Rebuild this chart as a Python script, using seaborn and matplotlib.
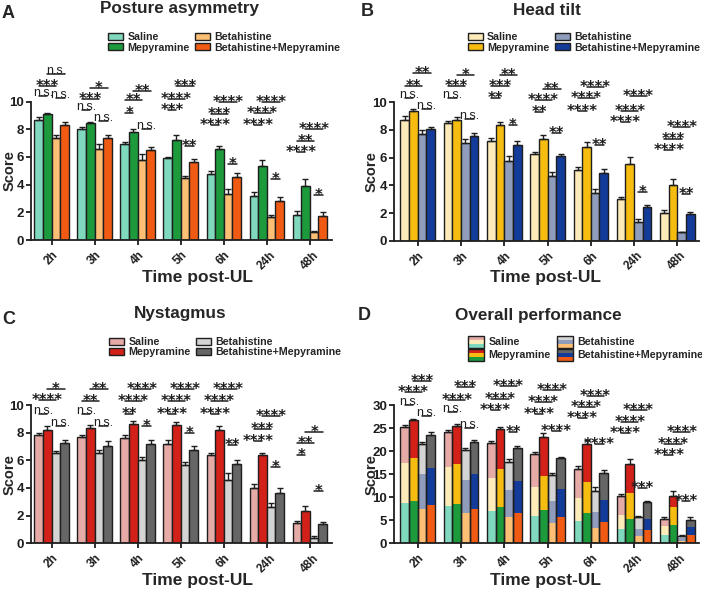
import numpy as np
import pandas as pd
import matplotlib
matplotlib.use("Agg")
import matplotlib.pyplot as plt
import matplotlib.transforms as mtransforms
from matplotlib.patches import Rectangle, Patch
from matplotlib.legend_handler import HandlerBase
import seaborn as sns

# ---------------- data ----------------
times = ["2h", "3h", "4h", "5h", "6h", "24h", "48h"]
groups = ["Saline", "Mepyramine", "Betahistine", "Betahistine+Mepyramine"]

# Posture asymmetry
posture_saline = [8.7, 8.0, 6.9, 5.9, 4.75, 3.2, 1.8]
posture_mepyramine = [9.1, 8.45, 7.8, 7.25, 6.55, 5.35, 3.9]
posture_betahistine = [7.35, 6.6, 5.8, 4.45, 3.35, 1.65, 0.6]
posture_combo = [8.3, 7.35, 6.5, 5.6, 4.55, 2.85, 1.7]
posture_err_saline = [0.2, 0.15, 0.15, 0.1, 0.25, 0.3, 0.3]
posture_err_mepyramine = [0.1, 0.1, 0.25, 0.3, 0.25, 0.45, 0.5]
posture_err_betahistine = [0.2, 0.3, 0.4, 0.2, 0.35, 0.15, 0.05]
posture_err_combo = [0.25, 0.2, 0.2, 0.25, 0.3, 0.25, 0.3]

# Head tilt
head_saline = [8.75, 8.5, 7.2, 6.25, 5.1, 3.0, 2.0]
head_mepyramine = [9.35, 8.7, 8.35, 7.35, 6.8, 5.55, 4.0]
head_betahistine = [7.7, 7.05, 5.75, 4.7, 3.45, 1.35, 0.6]
head_combo = [8.05, 7.6, 6.95, 6.1, 4.9, 2.4, 1.9]
head_err_saline = [0.25, 0.15, 0.25, 0.15, 0.25, 0.15, 0.2]
head_err_mepyramine = [0.15, 0.25, 0.25, 0.3, 0.3, 0.5, 0.45]
head_err_betahistine = [0.3, 0.3, 0.4, 0.25, 0.3, 0.2, 0.05]
head_err_combo = [0.15, 0.2, 0.25, 0.2, 0.25, 0.2, 0.2]

# Nystagmus
nyst_saline = [7.85, 7.7, 7.6, 7.2, 6.35, 4.0, 1.45]
nyst_mepyramine = [8.2, 8.35, 8.65, 8.55, 8.2, 6.35, 2.35]
nyst_betahistine = [6.5, 6.55, 6.05, 5.65, 4.6, 2.65, 0.4]
nyst_combo = [7.25, 7.05, 7.15, 6.75, 5.75, 3.65, 1.4]
nyst_err_saline = [0.15, 0.15, 0.2, 0.25, 0.15, 0.3, 0.15]
nyst_err_mepyramine = [0.25, 0.2, 0.2, 0.2, 0.3, 0.15, 0.35]
nyst_err_betahistine = [0.15, 0.2, 0.2, 0.25, 0.5, 0.25, 0.1]
nyst_err_combo = [0.2, 0.35, 0.35, 0.25, 0.25, 0.35, 0.15]

# Overall performance (error of the total score)
overall_err_saline = [0.4, 0.4, 0.5, 0.5, 0.5, 0.6, 0.5]
overall_err_mepyramine = [0.3, 0.4, 0.5, 0.8, 0.8, 1.0, 1.2]
overall_err_betahistine = [0.5, 0.5, 0.6, 0.4, 0.8, 0.3, 0.15]
overall_err_combo = [0.5, 0.4, 0.4, 0.3, 0.6, 0.3, 0.6]

# significance annotations: (time index, bar i, bar j, label, height)
ann_A = [
    (0, 0, 1, "n.s.", 10.6), (0, 0, 2, "***", 11.3), (0, 1, 3, "n.s.", 12.2), (0, 2, 3, "n.s.", 10.5),
    (1, 0, 1, "n.s.", 9.6), (1, 0, 2, "***", 10.4), (1, 1, 3, "*", 11.2), (1, 2, 3, "n.s.", 8.8),
    (2, 0, 1, "*", 9.4), (2, 0, 2, "**", 10.3), (2, 1, 3, "**", 11.0), (2, 2, 3, "n.s.", 8.2),
    (3, 0, 1, "***", 9.6), (3, 0, 2, "****", 10.4), (3, 1, 3, "***", 11.3), (3, 2, 3, "**", 7.0),
    (4, 0, 1, "****", 8.5), (4, 0, 2, "***", 9.3), (4, 1, 3, "****", 10.2), (4, 2, 3, "*", 5.7),
    (5, 0, 1, "****", 8.55), (5, 0, 2, "****", 9.4), (5, 1, 3, "****", 10.2), (5, 2, 3, "*", 4.6),
    (6, 0, 1, "****", 6.6), (6, 0, 2, "**", 7.4), (6, 1, 3, "****", 8.2), (6, 2, 3, "*", 3.5),
]
ann_B = [
    (0, 0, 1, "n.s.", 10.5), (0, 0, 2, "**", 11.4), (0, 1, 3, "**", 12.3), (0, 2, 3, "n.s.", 9.7),
    (1, 0, 1, "n.s.", 10.5), (1, 0, 2, "***", 11.4), (1, 1, 3, "*", 12.2), (1, 2, 3, "n.s.", 9.0),
    (2, 0, 1, "**", 10.55), (2, 0, 2, "***", 11.4), (2, 1, 3, "**", 12.2), (2, 2, 3, "*", 8.6),
    (3, 0, 1, "**", 9.5), (3, 0, 2, "****", 10.4), (3, 1, 3, "**", 11.2), (3, 2, 3, "**", 8.0),
    (4, 0, 1, "****", 9.6), (4, 0, 2, "****", 10.5), (4, 1, 3, "****", 11.3), (4, 2, 3, "**", 7.1),
    (5, 0, 1, "****", 8.8), (5, 0, 2, "****", 9.6), (5, 1, 3, "****", 10.65), (5, 2, 3, "*", 3.7),
    (6, 0, 1, "****", 6.75), (6, 0, 2, "***", 7.6), (6, 1, 3, "****", 8.4), (6, 2, 3, "**", 3.6),
]
ann_C = [
    (0, 0, 1, "n.s.", 9.6), (0, 0, 2, "****", 10.6), (0, 1, 3, "*", 11.4), (0, 2, 3, "n.s.", 8.7),
    (1, 0, 1, "n.s.", 9.6), (1, 0, 2, "**", 10.5), (1, 1, 3, "**", 11.4), (1, 2, 3, "n.s.", 8.7),
    (2, 0, 1, "**", 9.6), (2, 0, 2, "****", 10.5), (2, 1, 3, "****", 11.4), (2, 2, 3, "*", 8.7),
    (3, 0, 1, "****", 9.6), (3, 0, 2, "****", 10.5), (3, 1, 3, "****", 11.4), (3, 2, 3, "*", 8.2),
    (4, 0, 1, "****", 9.6), (4, 0, 2, "****", 10.5), (4, 1, 3, "****", 11.4), (4, 2, 3, "**", 7.35),
    (5, 0, 1, "****", 7.6), (5, 0, 2, "***", 8.5), (5, 1, 3, "****", 9.4), (5, 2, 3, "*", 5.7),
    (6, 0, 1, "*", 6.6), (6, 0, 2, "**", 7.5), (6, 1, 3, "*", 8.3), (6, 2, 3, "*", 4.0),
]
ann_D = [
    (0, 0, 1, "n.s.", 30.7), (0, 0, 2, "****", 33.5), (0, 1, 3, "***", 35.9), (0, 2, 3, "n.s.", 28.2),
    (1, 0, 1, "n.s.", 29.1), (1, 0, 2, "****", 31.8), (1, 1, 3, "***", 34.5), (1, 2, 3, "n.s.", 25.7),
    (2, 0, 1, "****", 29.6), (2, 0, 2, "****", 32.0), (2, 1, 3, "****", 34.7), (2, 2, 3, "**", 24.9),
    (3, 0, 1, "****", 28.7), (3, 0, 2, "****", 31.3), (3, 1, 3, "****", 33.8), (3, 2, 3, "****", 25.1),
    (4, 0, 1, "****", 27.8), (4, 0, 2, "****", 30.2), (4, 1, 3, "****", 32.7), (4, 2, 3, "****", 22.2),
    (5, 0, 1, "****", 24.6), (5, 0, 2, "****", 27.0), (5, 1, 3, "****", 29.5), (5, 2, 3, "***", 12.7),
    (6, 0, 1, "****", 19.9), (6, 0, 2, "****", 22.2), (6, 1, 3, "****", 24.9), (6, 2, 3, "***", 9.8),
]

# ---------------- style ----------------
posture_colors = ["#80D8BE", "#1C9A3C", "#FDBF74", "#F15A13"]
head_colors = ["#FDEBBA", "#F6BD10", "#8F9CBB", "#133B9A"]
nyst_colors = ["#E6AAA7", "#D3211A", "#D4D4D4", "#666666"]
EDGE = "#1e1e1e"

sns.set_style("ticks")
plt.rcParams["font.family"] = ["Liberation Sans", "DejaVu Sans"]
plt.rcParams["font.weight"] = "bold"
plt.rcParams["axes.labelweight"] = "bold"
plt.rcParams["axes.linewidth"] = 1.3

W, H = 702, 589
fig = plt.figure(figsize=(W / 100, H / 100), dpi=100)


def px_axes(left, right, top, bottom):
    return fig.add_axes([left / W, 1 - bottom / H, (right - left) / W, (bottom - top) / H])


axA = px_axes(31, 331.7, 101.5, 240)
axB = px_axes(394, 699, 102.3, 240.7)
axC = px_axes(31, 331.7, 405, 543.3)
axD = px_axes(394, 699, 405, 543.3)


def long_df(series):
    rows = []
    for g, vals in zip(groups, series):
        for t, v in zip(times, vals):
            rows.append({"time": t, "group": g, "value": v})
    return pd.DataFrame(rows)


def bar_layer(ax, series, colors, edge=True):
    n0 = len(ax.containers)
    sns.barplot(data=long_df(series), x="time", y="value", hue="group",
                order=times, hue_order=groups, palette=colors, saturation=1,
                errorbar=None, width=0.8, legend=False, ax=ax,
                edgecolor=EDGE if edge else "none", linewidth=1.0 if edge else 0)
    return ax.containers[n0:n0 + 4]


def add_errors(ax, containers, errs):
    for cont, err in zip(containers, errs):
        xs = [b.get_x() + b.get_width() / 2 for b in cont]
        ys = [b.get_y() + b.get_height() for b in cont]
        ax.errorbar(xs, ys, yerr=[np.zeros(len(err)), err], fmt="none",
                    ecolor=EDGE, elinewidth=1.0, capsize=2.5, capthick=1.0, zorder=5)


def add_annotations(ax, containers, anns):
    centers = [[b.get_x() + b.get_width() / 2 for b in cont] for cont in containers]
    line_tr = ax.transData + mtransforms.ScaledTranslation(0, -3 / 100, fig.dpi_scale_trans)
    for t, i, j, lab, y in anns:
        x1, x2 = centers[i][t], centers[j][t]
        ax.plot([x1, x2], [y, y], color=EDGE, lw=1.1, clip_on=False, transform=line_tr)
        if lab == "n.s.":
            tr = ax.transData + mtransforms.ScaledTranslation(0, -3 / 100, fig.dpi_scale_trans)
            ax.text((x1 + x2) / 2, y, lab, ha="center", va="baseline", fontsize=9,
                    fontweight="normal", color=EDGE, transform=tr, clip_on=False)
        else:
            tr = ax.transData + mtransforms.ScaledTranslation(0, -8 / 100, fig.dpi_scale_trans)
            ax.text((x1 + x2) / 2, y, lab, ha="center", va="baseline", fontsize=10.5,
                    family="DejaVu Sans", fontweight="bold", color=EDGE, transform=tr,
                    clip_on=False)


def style_axes(ax, ymax, step, xlim, xlabel_x):
    ax.set_ylim(0, ymax)
    ax.set_xlim(*xlim)
    ax.set_yticks(np.arange(0, ymax + 0.01, step))
    ax.set_yticklabels([f"{int(v)}" for v in np.arange(0, ymax + 0.01, step)])
    ax.tick_params(axis="both", length=3.5, width=1.3, direction="out", labelsize=9.5,
                   colors=EDGE, pad=1.5)
    ax.tick_params(axis="x", pad=3, labelsize=8.5)
    plt.setp(ax.get_xticklabels(), rotation=45, ha="center", fontweight="bold")
    plt.setp(ax.get_yticklabels(), fontweight="bold")
    for s in ["top", "right"]:
        ax.spines[s].set_visible(False)
    for s in ["left", "bottom"]:
        ax.spines[s].set_color(EDGE)
        ax.spines[s].set_linewidth(1.3)
    ax.set_ylabel("Score", fontsize=10.5, fontweight="bold", va="center")
    ax.set_xlabel("Time post-UL", fontsize=12.5, fontweight="bold", va="center")
    ax.yaxis.set_label_coords(-22 / 302, 0.5)
    ax.xaxis.set_label_coords(xlabel_x, -37 / 138.5)


# --- simple panels ---
panel_specs = [
    (axA, [posture_saline, posture_mepyramine, posture_betahistine, posture_combo],
     [posture_err_saline, posture_err_mepyramine, posture_err_betahistine, posture_err_combo],
     posture_colors, ann_A, (-0.48, 6.51), 0.553),
    (axB, [head_saline, head_mepyramine, head_betahistine, head_combo],
     [head_err_saline, head_err_mepyramine, head_err_betahistine, head_err_combo],
     head_colors, ann_B, (-0.55, 6.5), 0.498),
    (axC, [nyst_saline, nyst_mepyramine, nyst_betahistine, nyst_combo],
     [nyst_err_saline, nyst_err_mepyramine, nyst_err_betahistine, nyst_err_combo],
     nyst_colors, ann_C, (-0.48, 6.51), 0.553),
]
for ax, series, errs, cols, anns, xlim, xlx in panel_specs:
    conts = bar_layer(ax, series, cols)
    add_errors(ax, conts, errs)
    add_annotations(ax, conts, anns)
    style_axes(ax, 10, 2, xlim, xlx)

# --- stacked overall panel (posture bottom, head tilt middle, nystagmus top) ---
post = [posture_saline, posture_mepyramine, posture_betahistine, posture_combo]
head = [head_saline, head_mepyramine, head_betahistine, head_combo]
nyst = [nyst_saline, nyst_mepyramine, nyst_betahistine, nyst_combo]
stack_mid = [list(np.add(p, h)) for p, h in zip(post, head)]
stack_top = [list(np.add(m, n)) for m, n in zip(stack_mid, nyst)]
contD = bar_layer(axD, stack_top, nyst_colors, edge=False)
bar_layer(axD, stack_mid, head_colors, edge=False)
bar_layer(axD, post, posture_colors, edge=False)
for cont in contD:
    for b in cont:
        axD.add_patch(Rectangle((b.get_x(), 0), b.get_width(), b.get_height(),
                                facecolor="none", edgecolor=EDGE, lw=1.0, zorder=4))
add_errors(axD, contD, [overall_err_saline, overall_err_mepyramine,
                        overall_err_betahistine, overall_err_combo])
add_annotations(axD, contD, ann_D)
style_axes(axD, 30, 5, (-0.55, 6.5), 0.498)

# ---------------- legends ----------------
leg_kw = dict(frameon=False, ncol=2, loc="upper left", borderpad=0, borderaxespad=0,
              prop={"family": "Liberation Sans", "weight": "bold", "size": 7.7},
              handletextpad=0.42, labelspacing=0.02)


def simple_legend(cols, x, y, colspace):
    handles = [Patch(facecolor=c, edgecolor=EDGE, lw=1.0) for c in cols]
    fig.legend(handles, groups, bbox_to_anchor=(x / W, 1 - y / H), handlelength=1.4,
               handleheight=0.62, columnspacing=colspace, **leg_kw)


simple_legend(posture_colors, 108, 32.5, 0.5)
simple_legend(head_colors, 467.7, 32.5, 0.5)
simple_legend(nyst_colors, 109, 337, 0.5)


class StackHandler(HandlerBase):
    def __init__(self, cols):
        super().__init__()
        self.cols = cols

    def create_artists(self, legend, orig_handle, xdescent, ydescent, width, height,
                       fontsize, trans):
        arts = []
        h = height / 3.0
        for k, c in enumerate(self.cols):
            arts.append(Rectangle((-xdescent, -ydescent + k * h), width, h, facecolor=c,
                                  edgecolor="none", transform=trans))
        arts.append(Rectangle((-xdescent, -ydescent), width, height, facecolor="none",
                              edgecolor=EDGE, lw=1.0, transform=trans))
        return arts


d_handles = [Patch() for _ in groups]
hmap = {h: StackHandler([posture_colors[k], head_colors[k], nyst_colors[k]])
        for k, h in enumerate(d_handles)}
kwD = dict(leg_kw)
kwD["labelspacing"] = 0.12
fig.legend(d_handles, groups, bbox_to_anchor=(467.7 / W, 1 - 336 / H), handlelength=1.5,
           handleheight=1.3, columnspacing=0.6, handler_map=hmap, **kwD)

# ---------------- titles and panel letters ----------------
title_kw = dict(ha="center", va="center", fontsize=12.3, fontweight="bold")
fig.text(180 / W, 1 - 9 / H, "Posture asymmetry", **title_kw)
fig.text(547 / W, 1 - 10.5 / H, "Head tilt", **title_kw)
fig.text(180 / W, 1 - 313.5 / H, "Nystagmus", **title_kw)
fig.text(538 / W, 1 - 315 / H, "Overall performance", **title_kw)

letter_kw = dict(ha="center", va="center", fontsize=13, fontweight="bold")
fig.text(8.5 / W, 1 - 13.5 / H, "A", **letter_kw)
fig.text(367.5 / W, 1 - 11.7 / H, "B", **letter_kw)
fig.text(9 / W, 1 - 319 / H, "C", **letter_kw)
fig.text(364 / W, 1 - 315.5 / H, "D", **letter_kw)

fig.savefig("out.png", dpi=100)
